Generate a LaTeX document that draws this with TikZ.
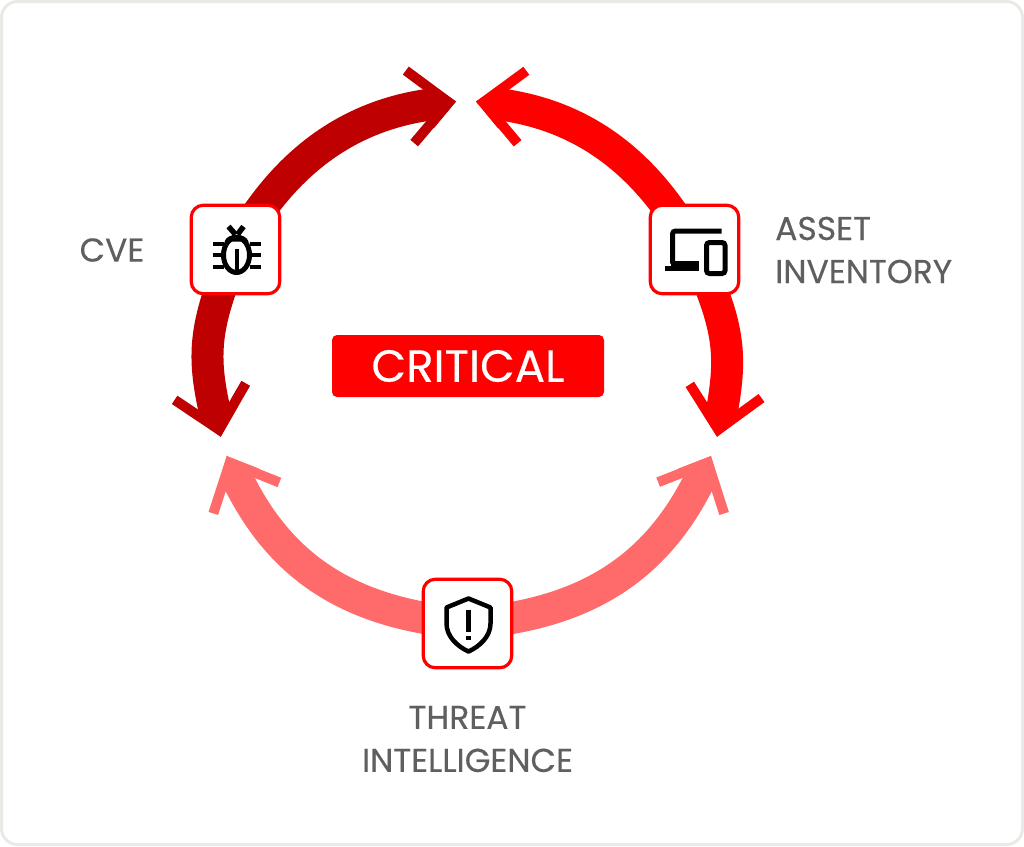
\documentclass[tikz,border=0pt]{standalone}
\usepackage{fontspec}
\setmainfont[FakeBold=0.3]{Poppins}
\usetikzlibrary{arrows.meta}
\usetikzlibrary{bending}
\definecolor{cvered}{HTML}{BE0000}
\definecolor{assetred}{HTML}{FF0000}
\definecolor{threatred}{HTML}{FF6B6B}
\definecolor{labelgrey}{HTML}{5F5F5F}
\definecolor{panelgrey}{HTML}{E9E9E5}
\pgfdeclarelayer{panel}
\pgfdeclarelayer{ring}
\pgfsetlayers{panel,ring,main}
\tikzstyle{panelbox}=[draw=panelgrey, line width=3pt, fill=white, rounded corners=16pt, inner sep=0, outer sep=0, minimum width=1021pt, minimum height=843pt]
\tikzstyle{sourcebox}=[draw=assetred, line width=3.2pt, fill=white, rounded corners=12pt, inner sep=0, outer sep=0, minimum size=88.5pt]
\tikzstyle{ringarrow}=[line width=32pt, shorten >=19pt,
                       % The head goes on top of the shaft: barbs, then a solid wedge.
                       postaction={draw, line width=1pt, shorten >=0pt, -{Straight Barb[length=39pt, width=73pt, line width=10pt]}},
                       postaction={draw, line width=1pt, shorten >=0pt, -{Triangle[length=26pt, width=47pt, line width=0pt]}}]
\tikzstyle{caption}=[inner sep=0, text=labelgrey, align=center, font=\fontsize{33}{43}\selectfont]
\tikzstyle{badge}=[fill=assetred, text=white, rounded corners=5pt, inner sep=0, minimum width=272pt, minimum height=62pt, font=\fontsize{45}{45}\selectfont]
\tikzset{
  bugicon/.pic={
    \draw[line width=5pt] (1,5.5) ellipse (13 and 17.5);
    \fill (-11,-8) .. controls (-8,-17) and (10,-17) .. (13,-8) -- cycle;
    \draw[line width=4pt] (1,-1) -- (1,20.5);
    \draw[line width=5.5pt] (-7,-23) -- (0,-15);
    \draw[line width=5.5pt] (8,-23) -- (2,-15);
    \foreach \legy in {-6,5.5,17} {
      \draw[line width=4pt] (-23,\legy) -- (-12,\legy);
      \draw[line width=4pt] (14,\legy) -- (25,\legy);
    }
  },
  deviceicon/.pic={
    \draw[line width=5pt, rounded corners=3pt] (27,-18.5) -- (-22,-18.5) -- (-22,14);
    \fill (-30,16.5) rectangle (4,21.5);
    \fill (-24,11) rectangle (4,16.5);
    \draw[line width=5pt, rounded corners=3pt] (12,-7) rectangle (30.5,24);
  },
  shieldicon/.pic={
    \draw[line width=4.5pt, line join=round] (1,-25) -- (-21,-16) -- (-21,0) .. controls (-21,13) and (-10,23) .. (1,28) .. controls (12,23) and (23,13) .. (23,0) -- (23,-16) -- cycle;
    \draw[line width=5pt] (1,-14) -- (1,8);
    \fill (-1.5,12) rectangle (3.5,16.5);
  }
}

\begin{document}
\begin{tikzpicture}[x=1pt, y=-1pt]
    \useasboundingbox (0,0) rectangle (1024,846);
    \begin{pgfonlayer}{panel}
        \node[panelbox] (panel) at (512,423) {};
    \end{pgfonlayer}

    \node[sourcebox] (cve)    at (235.5,249.5) {};
    \node[sourcebox] (asset)  at (694.5,249.5) {};
    \node[sourcebox] (threat) at (467.5,623.5) {};
    \pic at (cve) {bugicon};
    \pic at (asset) {deviceicon};
    \pic at (threat) {shieldicon};

    \coordinate (cvetop)     at (456,101.5);
    \coordinate (assettop)   at (476,101.5);
    \coordinate (cveleft)    at (220.7,436.7);
    \coordinate (assetright) at (717,436.7);
    \coordinate (threatleft) at (226.7,456);
    \coordinate (threatright) at (711,456);

    % The arcs run from the box centres, so they go under the boxes.
    \begin{pgfonlayer}{ring}
        \draw[ringarrow, cvered] (cve.center) to[bend left=27.4, looseness=1] (cvetop);
        \draw[ringarrow, cvered] (cve.center) to[bend right=17.7, looseness=1.15] (cveleft);
        \draw[ringarrow, assetred] (asset.center) to[bend right=27.4, looseness=1] (assettop);
        \draw[ringarrow, assetred] (asset.center) to[bend left=17.7, looseness=1.15] (assetright);
        \draw[ringarrow, threatred] (threat.center) to[bend left=30.2, looseness=1.05] (threatleft);
        \draw[ringarrow, threatred] (threat.center) to[bend right=30.2, looseness=1.05] (threatright);
    \end{pgfonlayer}

    \node[badge] (critical) at (468,366) {CRITICAL};
    \node[caption] (cvelabel) at (112,250) {CVE};
    \node[caption, align=left, anchor=west] (assetlabel) at (775,250) {ASSET\\INVENTORY};
    \node[caption] (threatlabel) at (467.5,739) {THREAT\\INTELLIGENCE};
\end{tikzpicture}
\end{document}
